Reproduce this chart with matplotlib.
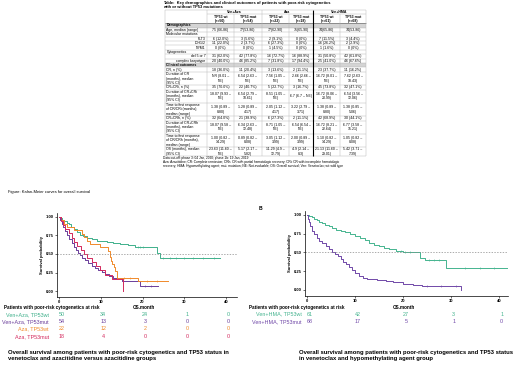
import numpy as np
import matplotlib
matplotlib.use("Agg")
import matplotlib.pyplot as plt
import matplotlib.transforms as mtransforms

plt.rcParams['font.family'] = ['Liberation Sans', 'DejaVu Sans']

# ---------------- table data ----------------
groups = ["Ven+Aza", "Aza", "Ven+HMA"]
col_heads = ["TP53 wt\n(n=50)", "TP53 mut\n(n=54)", "TP53 wt\n(n=22)",
             "TP53 mut\n(n=18)", "TP53 wt\n(n=61)", "TP53 mut\n(n=68)"]

age = ["75 (66-86)", "77(53-86)", "77(62-90)", "75(65-90)", "74(65-86)", "74(53-86)"]
flt3 = ["6 (12.0%)", "3 (5.6%)", "2 (9.1%)", "0 (0%)", "7 (11.5%)", "3 (4.4%)"]
idh12 = ["11 (22.0%)", "2 (3.7%)", "6 (27.3%)", "0 (0%)", "16 (26.2%)", "2 (2.9%)"]
npm1 = ["0 (0%)", "0 (0%)", "1 (4.5%)", "0 (0%)", "1 (1.6%)", "0 (0%)"]
del57 = ["31 (62.0%)", "42 (77.8%)", "16 (72.7%)", "16 (88.9%)", "31 (50.8%)", "42 (61.8%)"]
complex_k = ["20 (40.0%)", "46 (85.2%)", "7 (31.8%)", "17 (94.4%)", "25 (41.0%)", "46 (67.6%)"]
cr = ["18 (36.0%)", "11 (20.4%)", "3 (13.6%)", "2 (11.1%)", "23 (37.7%)", "11 (16.2%)"]
dur_cr = ["NR (8.01 –\nNE)", "6.54 (2.63 –\nNE)", "7.56 (1.05 –\nNE)", "2.66 (2.66 –\nNE)",
          "16.72 (8.01 –\nNE)", "7.62 (2.63 –\n18.43)"]
cr_cri = ["35 (70.0%)", "22 (40.7%)", "5 (22.7%)", "3 (16.7%)", "45 (73.8%)", "32 (47.1%)"]
dur_cri = ["18.07 (9.93 –\nNE)", "6.54 (2.79 –\n10.61)", "8.51 (1.05 –\nNE)", "6.7 (6.7 – NE)",
           "16.72 (8.06 –\n20.99)", "6.54 (3.56 –\n12.06)"]
ttr_cri = ["1.38 (0.89 –\n8.80)", "1.28 (0.89 –\n4.17)", "2.05 (1.12 –\n4.17)", "3.22 (2.79 –\n3.71)",
           "1.38 (0.89 –\n8.80)", "1.38 (0.85 –\n5.06)"]
cr_crh = ["32 (64.0%)", "21 (38.9%)", "6 (27.3%)", "2 (11.1%)", "42 (68.9%)", "30 (44.1%)"]
dur_crh = ["18.07 (9.58 –\nNE)", "6.34 (2.63 –\n12.48)", "8.71 (1.05 –\nNE)", "6.54 (6.54 –\nNE)",
           "16.72 (8.21 –\n22.64)", "6.77 (3.58 –\n15.21)"]
ttr_crh = ["1.00 (0.82 –\n14.29)", "0.89 (0.82 –\n8.08)", "3.05 (1.12 –\n3.99)", "2.00 (0.89 –\n3.99)",
           "1.10 (0.82 –\n14.29)", "1.05 (0.82 –\n8.08)"]
os_med = ["23.63 (11.60 –\nNE)", "5.17 (2.17 –\n5.82)", "11.29 (4.9 –\n12.79)", "4.9 (2.14 –\n8.3)",
          "21.13 (11.60 –\n29.01)", "5.42 (3.71 –\n7.39)"]

# (label, lines, kind, values)
rows = [
    ("Demographics", 1, "section", None),
    ("Age, median (range)", 1, "data", age),
    ("Molecular mutations", 1, "plain", None),
    ("FLT3", 1, "sub", flt3),
    ("IDH1/2", 1, "sub", idh12),
    ("NPM1", 1, "sub", npm1),
    ("Cytogenetics", 1, "plain", None),
    ("del 5 or 7", 1, "sub", del57),
    ("complex karyotype", 1, "sub", complex_k),
    ("Clinical outcomes", 1, "section", None),
    ("CR, n (%)", 1, "data", cr),
    ("Duration of CR\n(months), median\n(95% CI)", 3, "data", dur_cr),
    ("CR+CRi, n (%)", 1, "data", cr_cri),
    ("Duration of CR+CRi\n(months), median\n(95% CI)", 3, "data", dur_cri),
    ("Time to first response\nof CR/CRi (months),\nmedian (range)", 3, "data", ttr_cri),
    ("CR+CRh, n (%)", 1, "data", cr_crh),
    ("Duration of CR+CRh\n(months), median\n(95% CI)", 3, "data", dur_crh),
    ("Time to first response\nof CR/CRh (months),\nmedian (range)", 3, "data", ttr_crh),
    ("OS (months), median\n(95% CI)", 2, "data", os_med),
]

footnotes = [
    "Data cut-off: phase 3: 04 Jan, 2020; phase 1b: 19 Jan, 2019",
    "Aza: Azacitidine; CR: Complete remission; CRh: CR with partial hematologic recovery; CRi: CR with incomplete hematologic",
    "recovery; HMA: Hypomethylating agent; mut: mutation; NE: Not-evaluable; OS: Overall survival; Ven: Venetoclax; wt: wild type",
]

# ---------------- KM data ----------------
risk_times = [0, 10, 20, 30, 40]

a_names = ["Ven+Aza, TP53wt", "Ven+Aza, TP53mut", "Aza, TP53wt", "Aza, TP53mut"]
a_colors = ["#3fb08b", "#6a3d9a", "#f08a2a", "#d3285c"]
a_risk = [[50, 34, 24, 1, 0], [54, 13, 3, 0, 0], [22, 12, 2, 0, 0], [18, 4, 0, 0, 0]]

vaw_t = [0, 0.4, 0.8, 1.3, 1.8, 2.3, 2.9, 3.5, 4.2, 5.0, 5.8, 6.8, 7.8, 9.0, 10.2, 11.6, 13.0, 14.6,
         16.4, 18.3, 23.4, 24.1, 38.5]
vaw_s = [1.0, 0.98, 0.96, 0.94, 0.92, 0.90, 0.86, 0.84, 0.80, 0.76, 0.74, 0.72, 0.70, 0.68, 0.67, 0.66,
         0.65, 0.63, 0.62, 0.60, 0.52, 0.44, 0.44]
vam_t = [0, 0.3, 0.6, 1.0, 1.4, 2.0, 2.5, 3.0, 3.5, 4.0, 4.5, 5.0, 5.6, 6.2, 7.0, 7.8, 8.6, 9.4, 10.2,
         11.0, 12.0, 13.0, 15.0, 17.0, 19.5, 23.8]
vam_s = [1.0, 0.96, 0.91, 0.87, 0.81, 0.76, 0.70, 0.65, 0.60, 0.56, 0.52, 0.49, 0.45, 0.42, 0.38, 0.34,
         0.31, 0.28, 0.26, 0.23, 0.20, 0.17, 0.14, 0.13, 0.07, 0.07]
aw_t = [0, 0.5, 1.2, 2.0, 3.5, 5.5, 6.0, 6.6, 7.3, 9.7, 11.8, 12.2, 12.5, 12.8, 13.1, 13.4, 13.8, 19.0, 26.0]
aw_s = [1.0, 0.955, 0.909, 0.864, 0.818, 0.773, 0.727, 0.682, 0.636, 0.591, 0.545, 0.455, 0.409, 0.364,
        0.318, 0.273, 0.182, 0.136, 0.136]
am_t = [0, 0.4, 0.9, 1.5, 2.3, 3.0, 3.6, 4.3, 5.2, 5.9, 6.8, 7.8, 8.8, 9.8, 11.0, 12.6, 15.3]
am_s = [1.0, 0.944, 0.889, 0.833, 0.778, 0.722, 0.667, 0.611, 0.556, 0.500, 0.444, 0.389, 0.333, 0.278,
        0.222, 0.167, 0.0]
a_times = [vaw_t, vam_t, aw_t, am_t]
a_surv = [vaw_s, vam_s, aw_s, am_s]
a_cens = [[19.0, 19.5, 20.0, 25.0, 26.5, 28.0, 30.0, 32.0, 34.5, 37.0], [20.5, 22.0],
          [15.5, 17.0, 21.0, 23.5], []]

b_names = ["Ven+HMA, TP53wt", "Ven+HMA, TP53mut"]
b_colors = ["#45b48f", "#7048a8"]
b_risk = [[61, 42, 27, 3, 1], [68, 17, 5, 1, 0]]
hw_t = [0, 0.5, 1.0, 1.5, 2.0, 2.6, 3.2, 3.8, 4.5, 5.2, 6.0, 7.0, 8.0, 9.0, 10.0, 11.0, 12.0, 13.0,
        14.0, 15.0, 16.0, 17.0, 18.5, 20.0, 22.0, 23.6, 24.5, 29.0, 41.7]
hw_s = [1.0, 0.98, 0.97, 0.95, 0.93, 0.91, 0.89, 0.87, 0.85, 0.83, 0.80, 0.78, 0.77, 0.75, 0.72, 0.69,
        0.66, 0.63, 0.60, 0.58, 0.56, 0.54, 0.52, 0.51, 0.50, 0.43, 0.40, 0.29, 0.29]
hm_t = [0, 0.2, 0.4, 0.7, 1.0, 1.5, 2.0, 2.6, 3.2, 4.0, 4.6, 5.2, 5.8, 6.4, 7.0, 7.6, 8.2, 8.8, 9.4,
        10.0, 10.8, 11.6, 12.5, 14.5, 16.5, 18.0, 20.0, 22.0, 24.0, 32.2]
hm_s = [1.0, 0.95, 0.90, 0.85, 0.79, 0.74, 0.69, 0.65, 0.62, 0.58, 0.55, 0.51, 0.48, 0.45, 0.41, 0.37,
        0.34, 0.30, 0.27, 0.23, 0.19, 0.16, 0.14, 0.13, 0.12, 0.10, 0.08, 0.06, 0.05, 0.0]
b_times = [hw_t, hm_t]
b_surv = [hw_s, hm_s]
b_cens = [[19.5, 20.5, 21.5, 25.5, 26.5, 27.5, 33.0, 36.0, 39.0], [25.0, 28.0, 31.0]]

W, H = 520, 365
fig = plt.figure(figsize=(W / 100, H / 100), dpi=100)

# overlay in pixel coordinates for table and free text
ov = fig.add_axes([0, 0, 1, 1])
ov.set_xlim(0, W)
ov.set_ylim(H, 0)
ov.axis("off")

# ---------------- table ----------------
fs_t = 2.5
col_x = [165, 207, 234, 262, 289, 313, 340, 366]
pitch = 4.42
top = 10.0
grid_c = "#b0b0b0"

ov.text(163, 3, "Table:  Key demographics and clinical outcomes of patients with poor-risk cytogenetics",
        fontsize=2.9, fontweight="bold", va="center", ha="left")
ov.text(163, 7.3, "with or without TP53 mutations", fontsize=2.9, fontweight="bold", va="center", ha="left")

# header rows
y = top
for g, name in enumerate(groups):
    xa, xb = col_x[1 + 2 * g], col_x[3 + 2 * g]
    ov.text((xa + xb) / 2, y + pitch / 2, name, fontsize=fs_t, fontweight="bold", ha="center", va="center")
ov.hlines(y + pitch, col_x[1], col_x[-1], color=grid_c, lw=0.3)
y += pitch
for j, h in enumerate(col_heads):
    ov.text((col_x[j + 1] + col_x[j + 2]) / 2, y + pitch, h, fontsize=fs_t, fontweight="bold",
            ha="center", va="center", linespacing=1.05)
y += 2 * pitch
ov.hlines(y, col_x[0], col_x[-1], color="#555555", lw=0.4)

for label, n, kind, vals in rows:
    h = n * pitch
    if kind == "section":
        ov.fill_between([col_x[0], col_x[-1]], y, y + h, color="#d4d4d4", lw=0)
        ov.text(col_x[0] + 1.5, y + h / 2, label, fontsize=fs_t, fontweight="bold", va="center")
    elif kind == "sub":
        ov.text(col_x[1] - 1.5, y + h / 2, label, fontsize=fs_t, va="center", ha="right")
    else:
        ov.text(col_x[0] + 1.5, y + h / 2, label, fontsize=fs_t, va="center", ha="left", linespacing=1.05)
    if vals is not None:
        for j, v in enumerate(vals):
            ov.text((col_x[j + 1] + col_x[j + 2]) / 2, y + h / 2, v, fontsize=fs_t, ha="center",
                    va="center", linespacing=1.05)
    y += h
    ov.hlines(y, col_x[0], col_x[-1], color=grid_c, lw=0.3)
bottom = y
for k, x in enumerate(col_x):
    if k == 5:
        ov.vlines(x, top, bottom, color="black", lw=0.8)
    else:
        ov.vlines(x, top if k in (0, 1, 3, 7) else top + pitch, bottom, color=grid_c, lw=0.3)
ov.hlines(top, col_x[0], col_x[-1], color=grid_c, lw=0.3)

for i, f in enumerate(footnotes):
    ov.text(163, bottom + 2.5 + i * 4.0, f, fontsize=2.3, va="center", ha="left")

ov.text(8, 192, "Figure: Kalan-Meier curves for overall survival", fontsize=2.9, va="center")
ov.text(260, 209, "B", fontsize=3.6, fontweight="bold", va="center", ha="center")


def km_axes(rect, xlim, times, surv, cens, colors):
    ax = fig.add_axes(rect)
    for t, s, c, cn in zip(times, surv, colors, cens):
        ax.step(t, s, where="post", color=c, lw=0.7)
        if cn:
            cs = [s[np.searchsorted(t, x, side="right") - 1] for x in cn]
            ax.plot(cn, cs, ls="none", marker="|", ms=1.4, mew=0.4, color=c)
    ax.axhline(0.5, color="#8a8a8a", lw=0.5, ls=(0, (2.0, 2.0)))
    ax.set_xlim(*xlim)
    ax.set_ylim(-0.08, 1.053)
    ax.set_xticks(risk_times)
    ax.set_yticks([0, 0.25, 0.5, 0.75, 1.0])
    ax.set_yticklabels(["0.00", "0.25", "0.50", "0.75", "1.00"])
    for sp in ["top", "right"]:
        ax.spines[sp].set_visible(False)
    for sp in ["left", "bottom"]:
        ax.spines[sp].set_linewidth(0.5)
    ax.tick_params(labelsize=3.0, length=1.5, width=0.4, pad=1.0)
    for lab in ax.get_xticklabels() + ax.get_yticklabels():
        lab.set_fontweight("bold")
    ax.set_ylabel("Survival probability", fontsize=3.0, labelpad=1.0, fontweight="bold")
    ax.patch.set_alpha(0)
    return ax


def fr(l, t, r, b):
    return [l / W, 1 - b / H, (r - l) / W, (b - t) / H]


ax_a = km_axes(fr(57, 213, 237, 297), (-0.48, 42.6), a_times, a_surv, a_cens, a_colors)
ax_b = km_axes(fr(305, 211, 508, 296), (-0.42, 41.9), b_times, b_surv, b_cens, b_colors)


def risk_table(ax, names, risk, colors, x_label, y_rows, x_head, x_os):
    tr = mtransforms.blended_transform_factory(ax.transData, ov.transData)
    ov.text(x_head, 307.5, "Patients with poor-risk cytogenetics at risk", fontsize=3.3,
            fontweight="bold", va="center", ha="left")
    ov.text(x_os, 307.5, "OS.month", fontsize=3.3, fontweight="bold", va="center", ha="center")
    for name, r, c, yy in zip(names, risk, colors, y_rows):
        ov.text(x_label, yy, name, fontsize=3.9, color=c, va="center", ha="right")
        for t, v in zip(risk_times, r):
            ax.text(t + 0.6, yy, str(v), transform=tr, fontsize=3.9, color=c, va="center", ha="center")


risk_table(ax_a, a_names, a_risk, a_colors, 49, [314.3, 321.7, 329.0, 336.3], 4, 144)
risk_table(ax_b, b_names, b_risk, b_colors, 302, [314.0, 321.5], 249, 404)

ov.text(8, 355.5, "Overall survival among patients with poor-risk cytogenetics and TP53 status in\n"
        "venetoclax and azacitidine versus azacitidine groups",
        fontsize=4.2, fontweight="bold", va="center", ha="left", linespacing=1.25)
ov.text(299, 355.5, "Overall survival among patients with poor-risk cytogenetics and TP53 status\n"
        "in venetoclax and hypomethylating agent group",
        fontsize=4.2, fontweight="bold", va="center", ha="left", linespacing=1.25)

fig.savefig("out.png", dpi=100)
